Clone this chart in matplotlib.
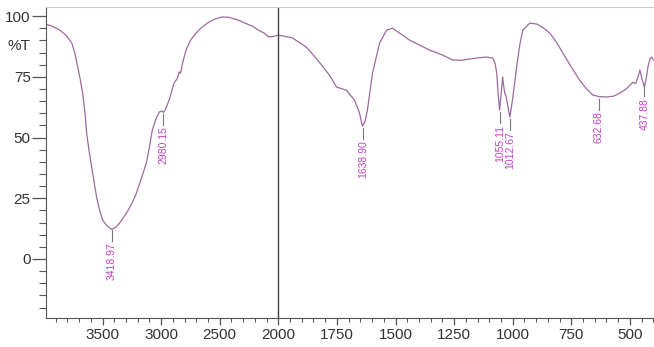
import matplotlib
matplotlib.use("Agg")
import matplotlib.pyplot as plt
import numpy as np
from matplotlib.ticker import FixedLocator, NullFormatter

plt.rcParams['font.family'] = ['Liberation Sans', 'DejaVu Sans']

# spectrum (wavenumber cm-1, %T)
wavenumber = [3983, 3930, 3864, 3810, 3763, 3735, 3712, 3690, 3670, 3650, 3636,
              3615, 3593, 3570, 3551, 3525, 3500, 3460, 3424, 3390, 3356, 3297,
              3250, 3212, 3170, 3127, 3100, 3076, 3045, 3017, 2992, 2980, 2960,
              2932, 2890, 2860, 2847, 2835, 2815, 2788, 2750, 2703, 2650, 2593,
              2540, 2483, 2424, 2350, 2280, 2220, 2170, 2120, 2085, 2040, 2000,
              1940, 1880, 1825, 1782, 1752, 1710, 1675, 1655, 1641, 1630, 1620,
              1598, 1568, 1538, 1513, 1483, 1440, 1400, 1355, 1300, 1256, 1220,
              1184, 1150, 1111, 1085, 1075, 1068, 1062, 1056, 1050, 1043, 1038,
              1034, 1028, 1020, 1012, 1000, 983, 970, 957, 927, 897, 870, 842,
              815, 786, 750, 714, 685, 658, 630, 598, 570, 543, 515, 487, 475,
              465, 457, 448, 438, 430, 423, 414, 406, 400]
transmittance = [96.7, 95.8, 94.2, 92.0, 88.9, 84.5, 79.0, 73.8, 68.3, 60.0, 51.8,
                 44.5, 37.8, 31.0, 25.4, 20.0, 16.0, 13.5, 12.2, 12.9, 14.7, 18.8,
                 22.8, 27.0, 33.0, 39.4, 46.0, 53.0, 57.5, 60.5, 60.9, 60.3, 62.0,
                 65.4, 72.4, 74.5, 77.0, 76.5, 81.0, 86.0, 90.0, 93.0, 95.5, 97.5,
                 98.8, 99.6, 99.5, 98.5, 97.0, 95.8, 94.2, 93.0, 91.4, 91.6, 92.2,
                 91.0, 87.2, 81.0, 75.7, 70.8, 69.5, 65.4, 60.5, 54.7, 56.5, 61.3,
                 76.5, 88.9, 94.2, 95.0, 93.0, 90.1, 88.2, 86.0, 84.0, 81.9, 81.8,
                 82.3, 82.8, 83.1, 82.7, 80.5, 76.5, 68.0, 61.3, 67.0, 74.9, 71.0,
                 68.3, 67.0, 62.5, 58.4, 66.0, 79.0, 88.0, 94.2, 97.1, 96.7, 95.2,
                 93.0, 89.5, 84.8, 79.0, 73.6, 70.0, 67.5, 66.8, 66.7, 67.0, 68.3,
                 70.0, 72.8, 72.2, 75.0, 77.8, 74.0, 70.8, 74.5, 79.0, 82.5, 83.1,
                 82.0]

peak_wn = [3418.97, 2980.15, 1638.90, 1055.11, 1012.67, 632.68, 437.88]
peak_t = [12.7, 60.5, 54.7, 61.3, 58.4, 66.7, 72.4]
peak_labels = ['3418.97', '2980.15', '1638.90', '1055.11', '1012.67', '632.68', '437.88']

x_major = [3500, 3000, 2500, 2000, 1750, 1500, 1250, 1000, 750, 500]
x_minor = list(range(3900, 2000, -100)) + list(range(1950, 399, -50))
y_major = [0, 25, 50, 75, 100]
y_minor = list(range(-20, 101, 5))


# scale is compressed by two above 2000 cm-1
def fwd(w):
    w = np.asarray(w, dtype=float)
    return np.where(w >= 2000, w / 2 + 1000, w)


def inv(u):
    u = np.asarray(u, dtype=float)
    return np.where(u >= 2000, (u - 1000) * 2, u)


fig = plt.figure(figsize=(6.54, 3.47), dpi=100)
ax = fig.add_axes([0.0703, 0.0836, 0.9297, 0.896])
ax.set_xscale('function', functions=(fwd, inv))
ax.set_xlim(3983, 397)
ax.set_ylim(-24.3, 103.7)

ax.plot(wavenumber, transmittance, color='#9b6b9e', lw=0.9)
ax.axvline(2000, color='#444444', lw=1.0)

label_color = '#c23fc8'
for w, t, lab in zip(peak_wn, peak_t, peak_labels):
    ax.plot([w, w], [t - 0.8, t - 5.5], color='#777777', lw=0.8)
    ax.text(w, t - 6.0, lab, rotation=90, ha='center', va='top',
            color=label_color, fontsize=7.5)

ax.xaxis.set_major_locator(FixedLocator(x_major))
ax.xaxis.set_minor_locator(FixedLocator(x_minor))
ax.xaxis.set_minor_formatter(NullFormatter())
ax.set_xticklabels([str(v) for v in x_major])
ax.yaxis.set_major_locator(FixedLocator(y_major))
ax.yaxis.set_minor_locator(FixedLocator(y_minor))
ax.set_yticklabels([str(v) for v in y_major])

ax.tick_params(axis='x', which='major', length=5, width=0.9, colors='#555555',
               labelcolor='#333333', labelsize=11, pad=2)
ax.tick_params(axis='x', which='minor', length=3, width=0.8, colors='#555555')
ax.tick_params(axis='y', which='major', length=10, width=0.9, colors='#555555',
               labelcolor='#333333', labelsize=11, pad=1)
ax.tick_params(axis='y', which='minor', length=5, width=0.8, colors='#555555')

ax.spines['right'].set_visible(False)
ax.spines['top'].set_color('#cccccc')
ax.spines['left'].set_color('#555555')
ax.spines['bottom'].set_color('#555555')

ax.text(-0.044, 87.6, '%T', transform=ax.get_yaxis_transform(), ha='center',
        va='center', fontsize=11, color='#333333')

fig.savefig('out.png', dpi=100)
